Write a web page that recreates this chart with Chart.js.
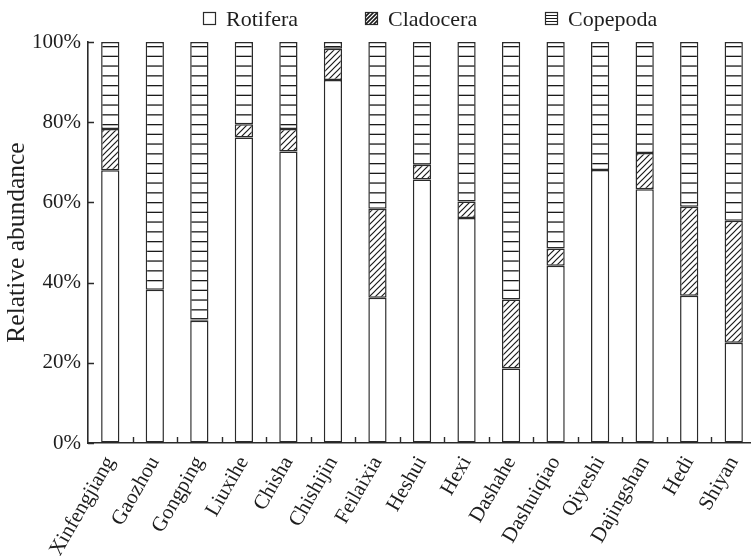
<!DOCTYPE html>
<html>
<head>
<meta charset="utf-8">
<script src="https://cdn.jsdelivr.net/npm/chart.js@4/dist/chart.umd.min.js"></script>
<style>
  html, body { margin: 0; padding: 0; background: #fff; overflow: hidden; }
  #wrap { width: 757px; height: 556px; }
</style>
</head>
<body>
<div id="wrap"><canvas id="c" width="757" height="556"></canvas></div>
<script>
// Sampling sites
const sites = ['Xinfengjiang', 'Gaozhou', 'Gongping', 'Liuxihe', 'Chisha', 'Chishijin',
  'Feilaixia', 'Heshui', 'Hexi', 'Dashahe', 'Dashuiqiao', 'Qiyeshi', 'Dajingshan', 'Hedi', 'Shiyan'];

// Relative abundance (%) of each zooplankton group
const rotifera  = [68.0, 38.2, 30.5, 76.2, 72.7, 90.5, 36.2, 65.7, 56.1, 18.6, 44.2, 68.1, 63.3, 36.7, 25.0];
const cladocera = [10.3, 0.0, 0.3, 3.3, 5.6, 7.8, 22.2, 3.7, 4.1, 17.2, 4.3, 0.0, 9.0, 22.2, 30.4];
const copepoda  = [21.7, 61.8, 69.2, 20.5, 21.7, 1.7, 41.6, 30.6, 39.8, 64.2, 51.5, 31.9, 27.7, 41.1, 44.6];

const yTicks = [0, 20, 40, 60, 80, 100];

const SERIF = '"Liberation Serif", "Times New Roman", serif';
const INK = '#1e1e1e';
const EDGE = '#2a2a2a';

// Fill patterns
function hatchPattern(size) {
  const c = document.createElement('canvas');
  c.width = size; c.height = size;
  const g = c.getContext('2d');
  g.fillStyle = '#fff'; g.fillRect(0, 0, size, size);
  g.strokeStyle = '#1a1a1a'; g.lineWidth = 1.2;
  g.beginPath();
  g.moveTo(-1, size + 1); g.lineTo(size + 1, -1);
  g.moveTo(-1, 1); g.lineTo(1, -1);
  g.moveTo(size - 1, size + 1); g.lineTo(size + 1, size - 1);
  g.stroke();
  return g.createPattern(c, 'repeat');
}
function stripePattern(rows, period) {
  const c = document.createElement('canvas');
  c.width = 8; c.height = period;
  const g = c.getContext('2d');
  g.fillStyle = '#fff'; g.fillRect(0, 0, 8, period);
  g.fillStyle = '#1a1a1a';
  rows.forEach(r => g.fillRect(0, r, 8, 1.3));
  return g.createPattern(c, 'repeat');
}
const hatch = hatchPattern(6);
const stripes = stripePattern([7, 16.7, 26.4, 36.2], 39);

// Legend drawn along the top
const legendItems = [
  { label: 'Rotifera', kind: 'plain', box: 203, text: 226 },
  { label: 'Cladocera', kind: 'hatch', box: 365, text: 388 },
  { label: 'Copepoda', kind: 'stripe', box: 545, text: 568 }
];
const topLegend = {
  id: 'topLegend',
  afterDraw(chart) {
    const ctx = chart.ctx;
    ctx.save();
    legendItems.forEach(it => {
      const x = it.box + 0.5, y = 12.5, s = 12;
      ctx.fillStyle = '#fff';
      ctx.fillRect(x, y, s, s);
      ctx.strokeStyle = '#1a1a1a';
      ctx.lineWidth = 1;
      if (it.kind === 'hatch') {
        ctx.save();
        ctx.beginPath(); ctx.rect(x, y, s, s); ctx.clip();
        ctx.lineWidth = 1.6;
        ctx.beginPath();
        for (let k = -s; k <= s; k += 4) {
          ctx.moveTo(x + k, y + s); ctx.lineTo(x + k + s, y);
        }
        ctx.stroke();
        ctx.restore();
      } else if (it.kind === 'stripe') {
        ctx.beginPath();
        for (let k = 3; k < s; k += 3) {
          ctx.moveTo(x, y + k); ctx.lineTo(x + s, y + k);
        }
        ctx.stroke();
      }
      ctx.strokeStyle = EDGE;
      ctx.lineWidth = 1.2;
      ctx.strokeRect(x, y, s, s);
      ctx.fillStyle = INK;
      ctx.font = '22px ' + SERIF;
      ctx.textBaseline = 'alphabetic';
      ctx.textAlign = 'left';
      ctx.fillText(it.label, it.text, 26);
    });
    ctx.restore();
  }
};

// Inward tick marks on both axes
const inwardTicks = {
  id: 'inwardTicks',
  afterDatasetsDraw(chart) {
    const { ctx, scales: { x, y }, chartArea: a } = chart;
    ctx.save();
    ctx.strokeStyle = EDGE;
    ctx.lineWidth = 1.4;
    ctx.beginPath();
    yTicks.forEach(v => {
      const py = Math.round(y.getPixelForValue(v)) + 0.5;
      ctx.moveTo(a.left, py); ctx.lineTo(a.left + 6, py);
    });
    for (let i = 1; i < sites.length; i++) {
      const px = Math.round((x.getPixelForValue(i - 1) + x.getPixelForValue(i)) / 2) + 0.5;
      ctx.moveTo(px, a.bottom); ctx.lineTo(px, a.bottom - 6);
    }
    ctx.stroke();
    ctx.restore();
  }
};

const seriesStyle = { borderColor: EDGE, borderWidth: 1.5, borderSkipped: false,
  barPercentage: 0.41, categoryPercentage: 1.0 };

new Chart(document.getElementById('c'), {
  type: 'bar',
  data: {
    labels: sites,
    datasets: [
      Object.assign({ label: 'Rotifera', data: rotifera, backgroundColor: '#fff' }, seriesStyle),
      Object.assign({ label: 'Cladocera', data: cladocera, backgroundColor: hatch }, seriesStyle),
      Object.assign({ label: 'Copepoda', data: copepoda, backgroundColor: stripes }, seriesStyle)
    ]
  },
  options: {
    responsive: false,
    animation: false,
    devicePixelRatio: 1,
    layout: { padding: { top: 42, right: 1, left: 0, bottom: 0 } },
    plugins: { legend: { display: false }, tooltip: { enabled: false } },
    scales: {
      x: {
        stacked: true,
        offset: true,
        grid: { display: true, drawOnChartArea: false, drawTicks: false },
        border: { display: true, color: EDGE, width: 1.6 },
        ticks: {
          autoSkip: false, minRotation: 60, maxRotation: 60, padding: 9,
          color: INK, font: { family: SERIF, size: 21 }
        },
        afterFit(s) { s.height = 113; s.paddingLeft = 0; s.paddingRight = 0; }
      },
      y: {
        stacked: true,
        min: 0, max: 100,
        afterBuildTicks(s) { s.ticks = yTicks.map(v => ({ value: v })); },
        grid: { display: true, drawOnChartArea: false, drawTicks: false },
        border: { display: true, color: EDGE, width: 1.6 },
        ticks: {
          padding: 7, color: INK, font: { family: SERIF, size: 21 },
          callback: v => v + '%'
        },
        title: {
          display: true, text: 'Relative abundance', color: INK,
          font: { family: SERIF, size: 25.5 }, padding: { top: 2, bottom: 0 }
        },
        afterFit(s) { s.width = 88; s.paddingTop = 0; s.paddingBottom = 0; }
      }
    }
  },
  plugins: [topLegend, inwardTicks]
});
</script>
</body>
</html>
